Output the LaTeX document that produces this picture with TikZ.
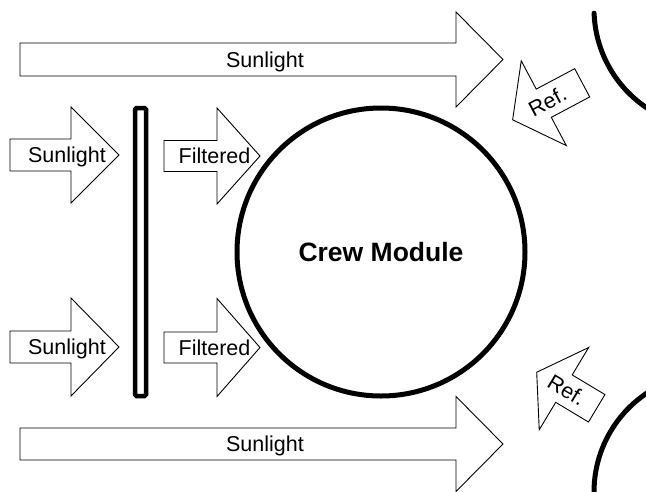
\documentclass[tikz,border=0pt]{standalone}
\usepackage{fontspec}
\setmainfont{Liberation Sans}
\begin{document}
\begin{tikzpicture}[x=1pt,y=-1pt,
  arrowline/.style={draw=black, line width=0.9pt, fill=white, line join=miter},
  lbl/.style={font=\fontsize{21.5}{25}\selectfont, inner sep=0pt, text height=15.4pt, text depth=0pt},
  heavy/.style={draw=black, line width=5pt},
  pics/fatarrow/.style n args={4}{code={
    % tail at origin; #1 total length, #2 shaft length, #3 half shaft width, #4 half head width
    \path[arrowline] (0,-#3) -- (#2,-#3) -- (#2,-#4) -- (#1,0) -- (#2,#4) -- (#2,#3) -- (0,#3) -- cycle;
  }}
]
\useasboundingbox (0,0) rectangle (646,491);
\clip (0,0) rectangle (646,491);

% big sunlight arrows
\pic at (20,59.5) {fatarrow={483}{436}{16.5}{47.5}};
\node[lbl] (sunTop) at (265,59.5) {Sunlight};
\pic at (20,444) {fatarrow={483}{436}{16}{47.5}};
\node[lbl] (sunBot) at (265,444) {Sunlight};

% small arrows left of the filter
\pic at (10,155) {fatarrow={109}{61}{16}{48}};
\node[lbl] (sunL1) at (67,155) {Sunlight};
\pic at (10,347) {fatarrow={109}{61}{16}{49}};
\node[lbl] (sunL2) at (67,347) {Sunlight};

% filtered arrows
\pic at (164,156) {fatarrow={96}{53}{15.5}{48}};
\node[lbl] (filt1) at (214.5,156) {Filtered};
\pic at (164,347.5) {fatarrow={96}{53}{15.5}{49}};
\node[lbl] (filt2) at (214.5,347.5) {Filtered};

% filter bar
\node[draw=black, line width=4.5pt, rounded corners=1.5pt, minimum width=11pt,
      minimum height=288pt, inner sep=0pt, fill=white] (filter) at (140.5,252) {};

% crew module
\node[circle, heavy, minimum size=288pt, inner sep=0pt,
      font=\fontsize{26.5}{30}\selectfont\bfseries] (crew) at (381,252) {Crew Module};

% neighbouring modules (arcs)
\draw[heavy, line cap=round] (713,9) ++(178:119) arc[start angle=178, end angle=100, radius=119];
\draw[heavy, line cap=round] (713,492) ++(180:119) arc[start angle=180, end angle=262, radius=119];

% reflected arrows
\begin{scope}[shift={(582.2,82.8)}, rotate=28]
  \pic[transform shape] {fatarrow={-78.8}{-43.5}{16}{48}};
\end{scope}
\node[lbl, rotate=28] (ref1) at (547.5,101.4) {Ref.};
\begin{scope}[shift={(596.7,408.3)}, rotate=-31]
  \pic[transform shape] {fatarrow={-70}{-38.2}{16}{48}};
\end{scope}
\node[lbl, rotate=-31] (ref2) at (566.7,390.3) {Ref.};
\end{tikzpicture}
\end{document}
